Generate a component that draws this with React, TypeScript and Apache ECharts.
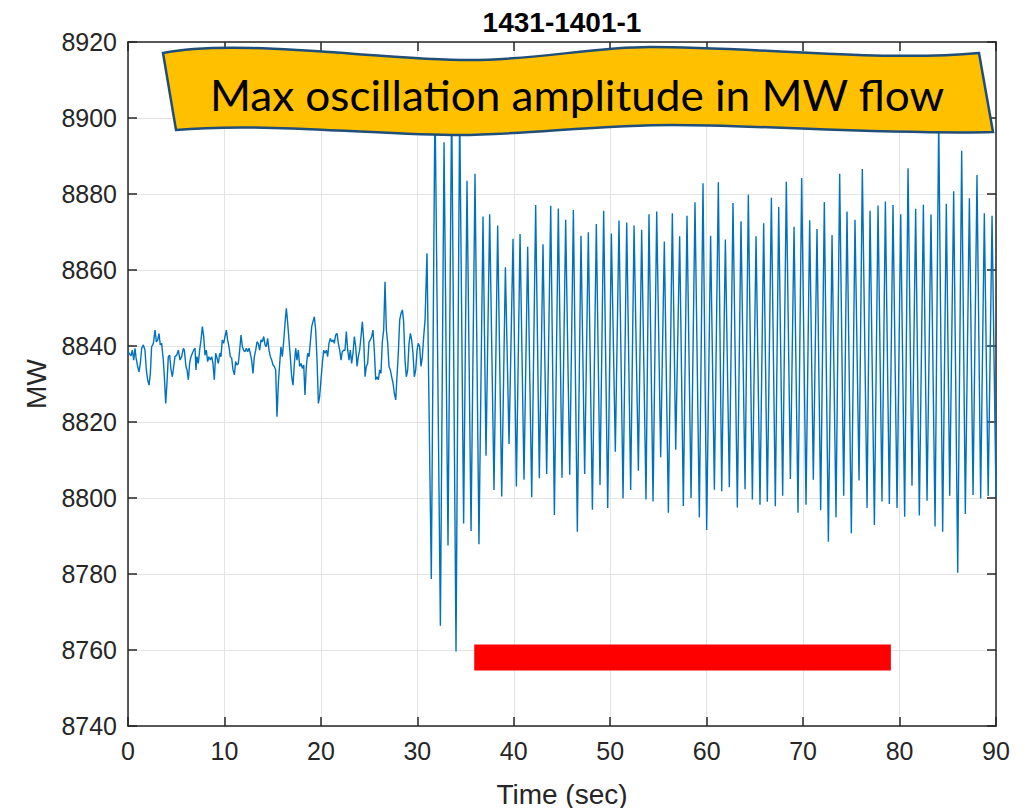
import React, { useEffect, useRef } from "react";
import * as echarts from "echarts";

const chartTitle = "1431-1401-1";
const bannerText = "Max oscillation amplitude in MW flow";
const xAxisName = "Time (sec)";
const yAxisName = "MW";
const xMin = 0;
const xMax = 90;
const xStep = 10;
const yMin = 8740;
const yMax = 8920;
const yStep = 20;

// pre-disturbance ambient noise (sec, MW)
const preTimes = [
  0.0, 0.31, 0.45, 0.59, 0.73, 0.83, 1.0, 1.14, 1.28, 1.42,
  1.59, 1.76, 1.9, 2.04, 2.18, 2.32, 2.45, 2.63, 2.8, 2.94,
  3.08, 3.21, 3.35, 3.49, 3.66, 3.77, 3.91, 4.04, 4.18, 4.32,
  4.46, 4.6, 4.74, 4.87, 5.05, 5.22, 5.39, 5.56, 5.74, 5.84,
  6.01, 6.12, 6.26, 6.39, 6.53, 6.67, 6.81, 6.95, 7.05, 7.15,
  7.29, 7.43, 7.57, 7.71, 7.85, 7.98, 8.12, 8.26, 8.4, 8.54,
  8.68, 8.81, 8.95, 9.09, 9.23, 9.37, 9.51, 9.64, 9.78, 9.92,
  10.06, 10.2, 10.33, 10.47, 10.61, 10.75, 10.89, 11.03, 11.16, 11.3,
  11.44, 11.58, 11.72, 11.86, 11.99, 12.13, 12.27, 12.41, 12.55, 12.68,
  12.82, 12.96, 13.1, 13.24, 13.38, 13.51, 13.65, 13.79, 13.93, 14.07,
  14.21, 14.34, 14.48, 14.62, 14.76, 14.9, 15.04, 15.17, 15.31, 15.45,
  15.59, 15.73, 15.86, 16.0, 16.14, 16.28, 16.42, 16.56, 16.69, 16.83,
  16.97, 17.11, 17.25, 17.39, 17.52, 17.66, 17.8, 17.94, 18.08, 18.22,
  18.35, 18.49, 18.63, 18.77, 18.91, 19.05, 19.18, 19.32, 19.46, 19.6,
  19.74, 19.87, 20.01, 20.15, 20.29, 20.43, 20.57, 20.7, 20.84, 20.98,
  21.12, 21.26, 21.39, 21.53, 21.67, 21.81, 21.95, 22.09, 22.22, 22.36,
  22.5, 22.64, 22.78, 22.92, 23.05, 23.19, 23.33, 23.47, 23.61, 23.75,
  23.88, 24.02, 24.16, 24.3, 24.44, 24.58, 24.71, 24.85, 24.99, 25.13,
  25.27, 25.4, 25.54, 25.68, 25.82, 25.96, 26.1, 26.23, 26.37, 26.51,
  26.65, 26.79, 26.93, 27.06, 27.2, 27.34, 27.48, 27.62, 27.76, 27.89,
  28.03, 28.17, 28.31, 28.45, 28.58, 28.72, 28.86, 29.0, 29.14, 29.28,
  29.41, 29.55, 29.69, 29.83, 29.97, 30.1, 30.24, 30.38, 30.52, 30.66,
  30.8,
];
const preValues = [
  8838.5, 8837.4, 8838.9, 8836.3, 8839.4, 8837.0, 8834.6, 8833.2, 8835.4, 8839.4,
  8840.3, 8838.9, 8833.7, 8831.1, 8829.7, 8832.8, 8839.8, 8840.7, 8844.2, 8841.1,
  8841.6, 8843.3, 8840.3, 8840.7, 8836.3, 8831.9, 8824.9, 8830.2, 8837.2, 8837.6,
  8833.7, 8831.9, 8834.6, 8837.2, 8837.6, 8838.9, 8836.3, 8837.2, 8839.4, 8838.9,
  8834.6, 8833.7, 8831.1, 8835.4, 8837.2, 8838.1, 8838.9, 8839.4, 8833.7, 8837.2,
  8835.4, 8838.9, 8841.6, 8845.1, 8842.5, 8837.6, 8838.9, 8835.9, 8837.2, 8836.3,
  8837.2, 8835.4, 8831.1, 8838.1, 8836.8, 8835.4, 8838.1, 8837.2, 8841.6, 8840.7,
  8842.5, 8844.2, 8841.6, 8839.8, 8837.2, 8836.8, 8833.7, 8832.4, 8835.9, 8835.0,
  8835.4, 8838.9, 8842.9, 8839.8, 8838.9, 8838.5, 8839.4, 8838.5, 8839.4, 8838.1,
  8836.3, 8832.8, 8837.2, 8838.9, 8841.1, 8840.7, 8838.9, 8841.6, 8841.1, 8842.5,
  8840.3, 8839.8, 8842.0, 8838.9, 8837.2, 8836.3, 8835.0, 8834.6, 8833.7, 8821.4,
  8830.2, 8835.4, 8839.8, 8837.2, 8841.1, 8846.0, 8849.9, 8846.0, 8841.6, 8837.2,
  8831.9, 8829.7, 8835.4, 8839.4, 8836.3, 8838.9, 8834.6, 8835.4, 8834.1, 8835.0,
  8827.1, 8834.6, 8838.1, 8837.2, 8841.1, 8845.1, 8846.4, 8847.7, 8844.2, 8836.3,
  8824.9, 8826.7, 8831.1, 8835.4, 8838.9, 8838.1, 8838.9, 8837.2, 8840.7, 8842.0,
  8841.1, 8841.6, 8840.7, 8842.9, 8843.3, 8840.7, 8838.9, 8836.3, 8838.5, 8838.9,
  8838.9, 8843.8, 8838.9, 8836.3, 8838.9, 8835.4, 8838.1, 8842.5, 8839.8, 8834.6,
  8837.2, 8838.9, 8842.5, 8846.4, 8841.6, 8831.9, 8834.6, 8835.4, 8841.1, 8841.6,
  8842.5, 8844.2, 8838.9, 8831.1, 8831.9, 8831.1, 8833.7, 8832.8, 8841.1, 8844.2,
  8856.9, 8844.2, 8840.7, 8834.6, 8833.7, 8831.9, 8830.2, 8827.5, 8825.8, 8831.9,
  8838.1, 8846.8, 8848.6, 8849.5, 8846.4, 8836.3, 8831.9, 8833.7, 8840.7, 8843.3,
  8841.6, 8838.1, 8831.9, 8833.7, 8838.9, 8840.7, 8839.8, 8834.6, 8837.2, 8842.5,
  8846.8,
];

// oscillation crests (sec, MW)
const peakTimes = [
  31.0, 31.83, 32.77, 33.56, 34.39, 35.15, 35.98, 36.81, 37.5, 38.33,
  39.13, 39.92, 40.65, 41.44, 42.27, 43.03, 43.83, 44.62, 45.38, 46.18,
  46.97, 47.73, 48.56, 49.32, 50.12, 50.91, 51.71, 52.47, 53.26, 54.02,
  54.82, 55.61, 56.44, 57.2, 57.96, 58.79, 59.62, 60.41, 61.21, 61.94,
  62.73, 63.56, 64.32, 65.12, 65.91, 66.71, 67.47, 68.26, 69.06, 69.85,
  70.68, 71.44, 72.2, 73.0, 73.79, 74.55, 75.38, 76.14, 76.94, 77.77,
  78.53, 79.32, 80.12, 80.88, 81.67, 82.47, 83.26, 84.06, 84.85, 85.61,
  86.44, 87.24, 88.03, 88.79, 89.59,
];
const peakValues = [
  8864.4, 8906.0, 8893.6, 8905.0, 8903.0, 8883.5, 8885.3, 8874.1, 8874.7, 8871.7,
  8860.7, 8868.2, 8869.5, 8866.1, 8877.1, 8866.8, 8876.9, 8876.2, 8873.2, 8875.8,
  8869.0, 8869.9, 8872.1, 8875.6, 8869.6, 8873.0, 8872.5, 8871.7, 8870.6, 8874.7,
  8875.4, 8867.5, 8874.9, 8868.9, 8874.3, 8877.8, 8882.8, 8869.0, 8883.1, 8868.0,
  8877.6, 8872.8, 8879.8, 8868.9, 8872.3, 8879.0, 8876.6, 8883.2, 8871.4, 8884.2,
  8873.1, 8870.8, 8877.9, 8869.2, 8885.3, 8875.4, 8873.2, 8886.6, 8875.6, 8877.0,
  8878.0, 8877.1, 8874.7, 8886.8, 8876.1, 8877.2, 8874.6, 8900.0, 8877.4, 8880.7,
  8891.4, 8878.9, 8885.0, 8874.9, 8874.3,
];

// oscillation troughs (sec, MW)
const troughTimes = [
  31.45, 32.39, 33.18, 34.01, 34.8, 35.57, 36.39, 37.12, 37.95, 38.75,
  39.51, 40.27, 41.06, 41.86, 42.65, 43.41, 44.21, 45.0, 45.8, 46.59,
  47.35, 48.15, 48.94, 49.74, 50.53, 51.33, 52.12, 52.92, 53.71, 54.44,
  55.23, 56.03, 56.79, 57.58, 58.38, 59.24, 60.0, 60.8, 61.56, 62.35,
  63.18, 63.98, 64.74, 65.53, 66.29, 67.12, 67.88, 68.68, 69.47, 70.3,
  71.06, 71.82, 72.62, 73.41, 74.21, 75.0, 75.8, 76.63, 77.39, 78.18,
  78.94, 79.74, 80.53, 81.29, 82.05, 82.85, 83.68, 84.47, 85.2, 86.03,
  86.82, 87.62, 88.41, 89.19, 90.0,
];
const troughValues = [
  8778.7, 8766.4, 8787.5, 8759.6, 8793.3, 8791.3, 8787.8, 8811.1, 8802.1, 8800.4,
  8814.2, 8803.0, 8804.8, 8800.2, 8805.2, 8806.3, 8795.5, 8805.3, 8806.1, 8791.1,
  8806.3, 8796.9, 8803.4, 8797.4, 8812.2, 8799.9, 8802.1, 8807.2, 8799.6, 8799.1,
  8810.7, 8796.1, 8812.7, 8797.9, 8800.0, 8794.9, 8791.6, 8802.2, 8801.8, 8802.8,
  8797.5, 8802.3, 8799.6, 8798.2, 8799.0, 8797.8, 8800.6, 8805.0, 8796.1, 8798.2,
  8804.8, 8796.8, 8788.5, 8794.9, 8800.6, 8790.7, 8804.6, 8797.4, 8792.9, 8799.1,
  8798.4, 8797.4, 8795.1, 8803.2, 8795.4, 8799.3, 8792.5, 8791.1, 8800.6, 8780.3,
  8795.8, 8800.8, 8799.9, 8800.5, 8800.0,
];

// red marker bar (time span, MW level)
const barTimes = [35.9, 79.1];
const barLevel = 8758;

const BANNER_PATH =
  "M163,53 C240,38 380,60 470,60 C540,60 590,47 650,47 C760,47 880,62 979,53 " +
  "L993,132 C900,135 760,125 673,125 C600,125 520,135 460,135 C380,135 260,122 176,130 Z";

let bannerRegistered = false;
function ensureBanner() {
  if (bannerRegistered) return;
  echarts.graphic.registerShape("banner", echarts.graphic.extendPath(BANNER_PATH, {}) as any);
  bannerRegistered = true;
}

const AXIS_COLOR = "#262626";
const FONT = "Liberation Sans, Arial, sans-serif";

export default function App() {
  const ref = useRef<HTMLDivElement>(null);

  useEffect(() => {
    if (!ref.current) return;
    ensureBanner();
    const chart = echarts.init(ref.current, undefined, { renderer: "svg" });

    const pre: number[][] = [];
    const n = Math.min(preTimes.length, preValues.length);
    for (let i = 0; i < n; i++) pre.push([preTimes[i], preValues[i]]);
    const osc: number[][] = [];
    for (let i = 0; i < Math.min(peakTimes.length, peakValues.length); i++) osc.push([peakTimes[i], peakValues[i]]);
    for (let i = 0; i < Math.min(troughTimes.length, troughValues.length); i++) osc.push([troughTimes[i], troughValues[i]]);
    osc.sort((a, b) => a[0] - b[0]);
    const lineData = pre.concat(osc);

    const plain = (v: number) => String(v);

    const mainAxisX = {
      type: "value",
      min: xMin,
      max: xMax,
      interval: xStep,
      position: "bottom",
      axisLine: { show: true, onZero: false, lineStyle: { color: AXIS_COLOR, width: 1.5 } },
      axisTick: { show: true, inside: true, length: 9, lineStyle: { color: AXIS_COLOR, width: 1.5 } },
      axisLabel: { color: AXIS_COLOR, fontSize: 25, fontFamily: FONT, margin: 12, formatter: plain },
      splitLine: { show: true, lineStyle: { color: "#e4e4e4", width: 1 } },
      name: xAxisName,
      nameLocation: "middle",
      nameGap: 54,
      nameTextStyle: { color: AXIS_COLOR, fontSize: 28, fontFamily: FONT },
    };
    const topAxisX = {
      type: "value",
      min: xMin,
      max: xMax,
      interval: xStep,
      position: "top",
      axisLine: { show: true, onZero: false, lineStyle: { color: AXIS_COLOR, width: 1.5 } },
      axisTick: { show: true, inside: true, length: 9, lineStyle: { color: AXIS_COLOR, width: 1.5 } },
      axisLabel: { show: false },
      splitLine: { show: false },
    };
    const mainAxisY = {
      type: "value",
      min: yMin,
      max: yMax,
      interval: yStep,
      position: "left",
      axisLine: { show: true, onZero: false, lineStyle: { color: AXIS_COLOR, width: 1.5 } },
      axisTick: { show: true, inside: true, length: 9, lineStyle: { color: AXIS_COLOR, width: 1.5 } },
      axisLabel: { color: AXIS_COLOR, fontSize: 25, fontFamily: FONT, margin: 11, formatter: plain },
      splitLine: { show: true, lineStyle: { color: "#e4e4e4", width: 1 } },
      name: yAxisName,
      nameLocation: "middle",
      nameGap: 78,
      nameTextStyle: { color: AXIS_COLOR, fontSize: 28, fontFamily: FONT },
    };
    const rightAxisY = {
      type: "value",
      min: yMin,
      max: yMax,
      interval: yStep,
      position: "right",
      axisLine: { show: true, onZero: false, lineStyle: { color: AXIS_COLOR, width: 1.5 } },
      axisTick: { show: true, inside: true, length: 9, lineStyle: { color: AXIS_COLOR, width: 1.5 } },
      axisLabel: { show: false },
      splitLine: { show: false },
    };

    chart.setOption({
      animation: false,
      backgroundColor: "#ffffff",
      grid: { left: 128, right: 36, top: 42, bottom: 82, containLabel: false, outerBoundsMode: "none" },
      xAxis: [mainAxisX, topAxisX],
      yAxis: [mainAxisY, rightAxisY],
      series: [
        {
          type: "line",
          data: lineData,
          showSymbol: false,
          symbol: "none",
          lineStyle: { color: "#0072BD", width: 1.4 },
          z: 2,
        },
        {
          type: "line",
          data: [
            [barTimes[0], barLevel],
            [barTimes[1], barLevel],
          ],
          showSymbol: false,
          symbol: "none",
          lineStyle: { color: "#FF0000", width: 26, cap: "butt" },
          z: 3,
        },
      ],
      graphic: [
        {
          type: "text",
          x: 562,
          y: 22,
          z: 100,
          style: {
            text: chartTitle,
            font: "bold 28px " + FONT,
            fill: "#000000",
            align: "center",
            verticalAlign: "middle",
          },
        },
        {
          type: "banner",
          x: 0,
          y: 0,
          z: 100,
          style: { fill: "#FFC000", stroke: "#1F4E79", lineWidth: 2.5 },
        },
        {
          type: "text",
          x: 577,
          y: 94,
          z: 101,
          scaleX: 1.05,
          style: {
            text: bannerText,
            font: "42px Lato, 'Open Sans', sans-serif",
            fill: "#000000",
            align: "center",
            verticalAlign: "middle",
          },
        },
      ],
    } as any);

    return () => {
      chart.dispose();
    };
  }, []);

  return (
    <div
      ref={ref}
      style={{ position: "fixed", left: 0, top: 0, width: 1032, height: 808, background: "#fff" }}
    />
  );
}
